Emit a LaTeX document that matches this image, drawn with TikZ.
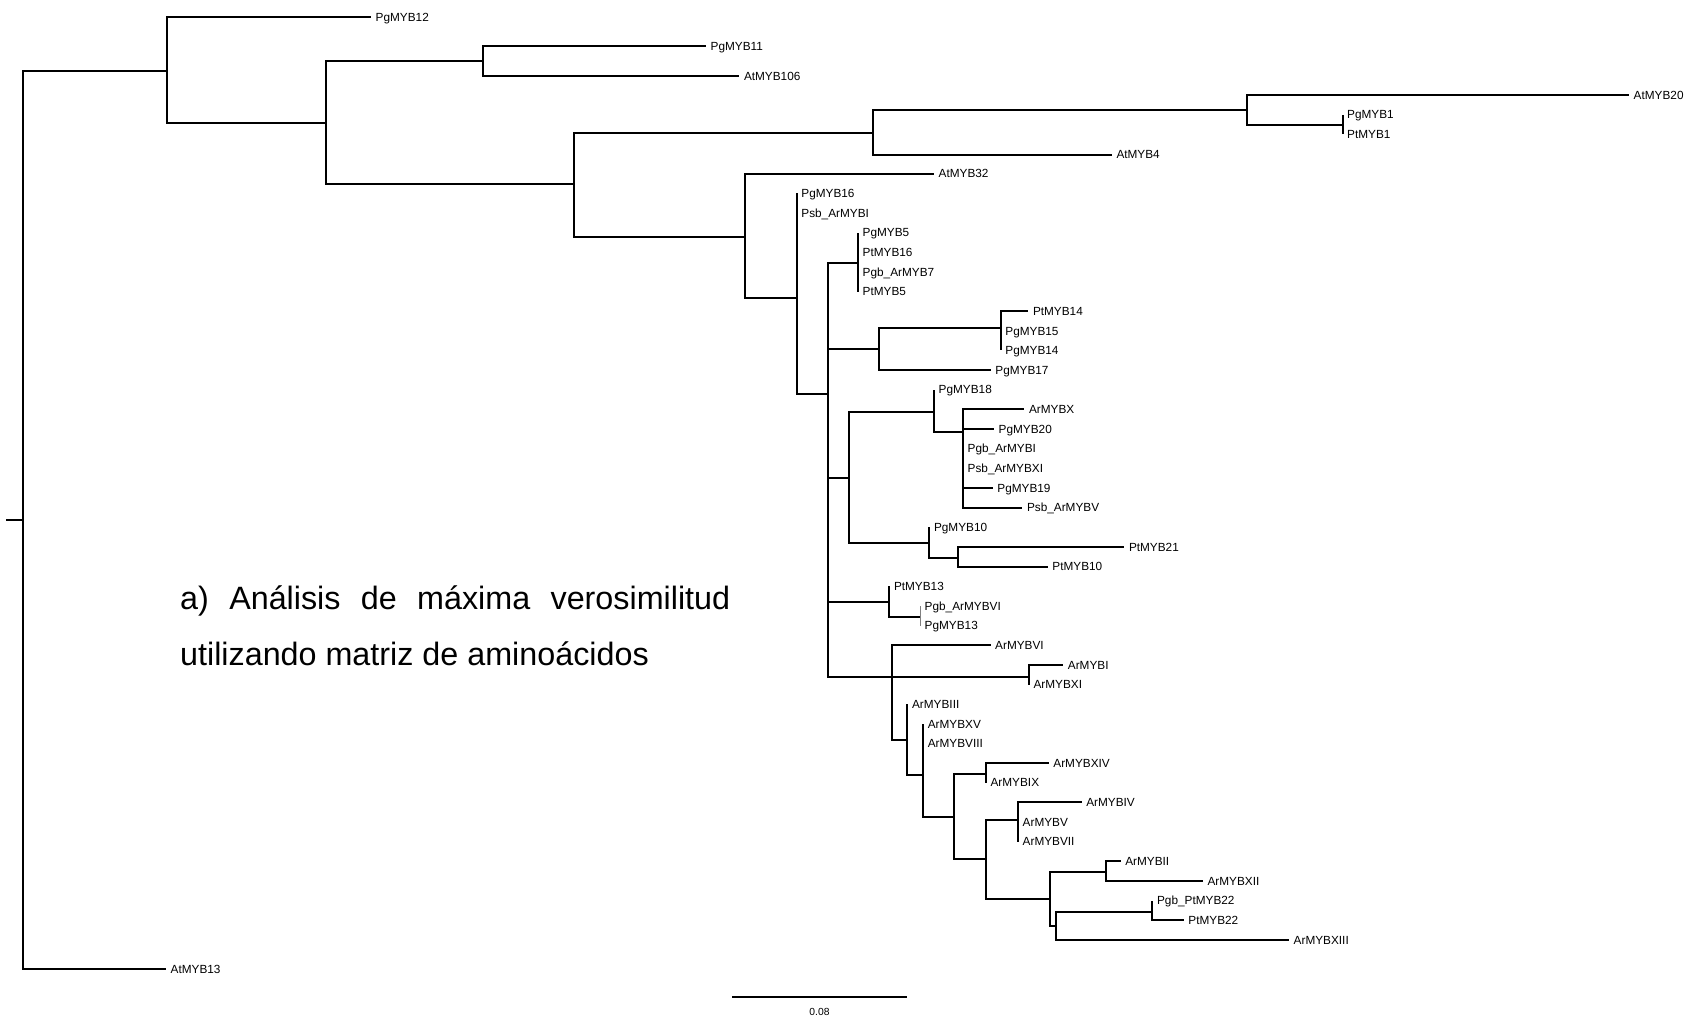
\documentclass[tikz,border=0pt]{standalone}
\usepackage{fontspec}
\setmainfont{Liberation Sans}
\begin{document}
\begin{tikzpicture}[x=1pt,y=-1pt,
  br/.style={line width=2pt,black},
  thinbr/.style={line width=1pt,gray},
  lab/.style={anchor=base west,inner sep=0pt,xshift=4.5pt,yshift=-4.2pt,font=\fontsize{11.8}{14}\selectfont},
  title/.style={anchor=base west,inner sep=0pt,font=\fontsize{32.3}{38}\selectfont}]
\newcommand\myleaf[4]{\coordinate (#1) at (#2,#3); \node[lab] (#1l) at (#1) {#4};}
\useasboundingbox (0,0) rectangle (1696,1016);
\fill[white] (0,0) rectangle (1696,1016);
% leaves
\myleaf{L1}{371}{17.3}{PgMYB12}
\myleaf{L2}{706}{46}{PgMYB11}
\myleaf{L3}{739.3}{76}{AtMYB106}
\myleaf{L4}{1629}{95}{AtMYB20}
\myleaf{L5}{1342.5}{114.65}{PgMYB1}
\myleaf{L6}{1342.5}{134.3}{PtMYB1}
\myleaf{L7}{1111.8}{154.7}{AtMYB4}
\myleaf{L8}{934}{173.6}{AtMYB32}
\myleaf{L9}{796.7}{193.25}{PgMYB16}
\myleaf{L10}{796.7}{212.9}{Psb\_ArMYBI}
\myleaf{L11}{858}{232.55}{PgMYB5}
\myleaf{L12}{858}{252.2}{PtMYB16}
\myleaf{L13}{858}{271.85}{Pgb\_ArMYB7}
\myleaf{L14}{858}{291.5}{PtMYB5}
\myleaf{L15}{1028.3}{311.15}{PtMYB14}
\myleaf{L16}{1000.7}{330.8}{PgMYB15}
\myleaf{L17}{1000.7}{350.45}{PgMYB14}
\myleaf{L18}{990.7}{370.1}{PgMYB17}
\myleaf{L19}{934}{389.75}{PgMYB18}
\myleaf{L20}{1024.3}{409.4}{ArMYBX}
\myleaf{L21}{994}{429.05}{PgMYB20}
\myleaf{L22}{963}{448.7}{Pgb\_ArMYBI}
\myleaf{L23}{963}{468.35}{Psb\_ArMYBXI}
\myleaf{L24}{992.7}{488}{PgMYB19}
\myleaf{L25}{1022.3}{507.65}{Psb\_ArMYBV}
\myleaf{L26}{929.3}{527.3}{PgMYB10}
\myleaf{L27}{1124.3}{546.95}{PtMYB21}
\myleaf{L28}{1047.7}{566.6}{PtMYB10}
\myleaf{L29}{889.3}{586.25}{PtMYB13}
\myleaf{L30}{920}{605.9}{Pgb\_ArMYBVI}
\myleaf{L31}{920}{625.55}{PgMYB13}
\myleaf{L32}{990.5}{645.2}{ArMYBVI}
\myleaf{L33}{1063.2}{664.85}{ArMYBI}
\myleaf{L34}{1028.8}{684.5}{ArMYBXI}
\myleaf{L35}{907.4}{704.15}{ArMYBIII}
\myleaf{L36}{923.1}{723.8}{ArMYBXV}
\myleaf{L37}{923.1}{743.45}{ArMYBVIII}
\myleaf{L38}{1048.7}{763.1}{ArMYBXIV}
\myleaf{L39}{985.9}{782.75}{ArMYBIX}
\myleaf{L40}{1081.6}{802.4}{ArMYBIV}
\myleaf{L41}{1018}{822.05}{ArMYBV}
\myleaf{L42}{1018}{841.7}{ArMYBVII}
\myleaf{L43}{1120.6}{861.35}{ArMYBII}
\myleaf{L44}{1202.9}{881}{ArMYBXII}
\myleaf{L45}{1152.4}{900.65}{Pgb\_PtMYB22}
\myleaf{L46}{1183.7}{920.3}{PtMYB22}
\myleaf{L47}{1289}{939.95}{ArMYBXIII}
\myleaf{L48}{166}{969}{AtMYB13}
% internal nodes
\coordinate (stub) at (6,520);
\coordinate (nR) at (23,520);
\coordinate (nA) at (166.5,70.7);
\coordinate (nB) at (325.7,123.3);
\coordinate (nC) at (483.3,61);
\coordinate (nD) at (574,184.3);
\coordinate (nE) at (873,132.7);
\coordinate (nF) at (1247,110.3);
\coordinate (nPP) at (1342.5,125.3);
\coordinate (nG) at (745,237);
\coordinate (nH) at (796.7,298.3);
\coordinate (nI) at (828,393.5);
\coordinate (nJ) at (858,263);
\coordinate (nK) at (879,349);
\coordinate (nL) at (1000.7,328);
\coordinate (nM) at (849.3,477.7);
\coordinate (nN) at (934,411.5);
\coordinate (nO) at (963,432.3);
\coordinate (nP) at (929.3,543.3);
\coordinate (nQ) at (958.3,557.7);
\coordinate (nRr) at (889.3,601.7);
\coordinate (nS) at (920,616.7);
\coordinate (nT) at (892,676.7);
\coordinate (nU) at (1028.8,676.7);
\coordinate (nV) at (907.4,740);
\coordinate (nW) at (923.1,775.3);
\coordinate (nX) at (954.1,816.7);
\coordinate (nY) at (985.9,773.7);
\coordinate (nZ) at (985.9,858.7);
\coordinate (nAA) at (1018,820);
\coordinate (nBB) at (1049.8,898.7);
\coordinate (nCC) at (1106.4,872.3);
\coordinate (nDD) at (1055.5,926);
\coordinate (nEE) at (1152.4,911.7);
% branches
\draw[br] (stub) -- (nR);
\draw[br] (nR) |- (nA);
\draw[br] (nR) |- (L48);
\draw[br] (nA) |- (L1);
\draw[br] (nA) |- (nB);
\draw[br] (nB) |- (nC);
\draw[br] (nB) |- (nD);
\draw[br] (nC) |- (L2);
\draw[br] (nC) |- (L3);
\draw[br] (nD) |- (nE);
\draw[br] (nD) |- (nG);
\draw[br] (nE) |- (nF);
\draw[br] (nE) |- (L7);
\draw[br] (nF) |- (L4);
\draw[br] (nF) |- (nPP);
\draw[br] (nPP) |- (L5);
\draw[br] (nPP) |- (L6);
\draw[br] (nG) |- (L8);
\draw[br] (nG) |- (nH);
\draw[br] (nH) |- (L9);
\draw[br] (nH) |- (L10);
\draw[br] (nH) |- (nI);
\draw[br] (nI) |- (nJ);
\draw[br] (nI) |- (nK);
\draw[br] (nI) |- (nM);
\draw[br] (nI) |- (nRr);
\draw[br] (nI) |- (nT);
\draw[br] (nJ) |- (L11);
\draw[br] (nJ) |- (L12);
\draw[br] (nJ) |- (L13);
\draw[br] (nJ) |- (L14);
\draw[br] (nK) |- (nL);
\draw[br] (nK) |- (L18);
\draw[br] (nL) |- (L15);
\draw[br] (nL) |- (L16);
\draw[br] (nL) |- (L17);
\draw[br] (nM) |- (nN);
\draw[br] (nM) |- (nP);
\draw[br] (nN) |- (L19);
\draw[br] (nN) |- (nO);
\draw[br] (nO) |- (L20);
\draw[br] (nO) |- (L21);
\draw[br] (nO) |- (L22);
\draw[br] (nO) |- (L23);
\draw[br] (nO) |- (L24);
\draw[br] (nO) |- (L25);
\draw[br] (nP) |- (L26);
\draw[br] (nP) |- (nQ);
\draw[br] (nQ) |- (L27);
\draw[br] (nQ) |- (L28);
\draw[br] (nRr) |- (L29);
\draw[br] (nRr) |- (nS);
\draw[thinbr] (nS) |- (L30);
\draw[thinbr] (nS) |- (L31);
\draw[br] (nT) |- (L32);
\draw[br] (nT) |- (nU);
\draw[br] (nT) |- (nV);
\draw[br] (nU) |- (L33);
\draw[br] (nU) |- (L34);
\draw[br] (nV) |- (L35);
\draw[br] (nV) |- (nW);
\draw[br] (nW) |- (L36);
\draw[br] (nW) |- (L37);
\draw[br] (nW) |- (nX);
\draw[br] (nX) |- (nY);
\draw[br] (nX) |- (nZ);
\draw[br] (nY) |- (L38);
\draw[br] (nY) |- (L39);
\draw[br] (nZ) |- (nAA);
\draw[br] (nZ) |- (nBB);
\draw[br] (nAA) |- (L40);
\draw[br] (nAA) |- (L41);
\draw[br] (nAA) |- (L42);
\draw[br] (nBB) |- (nCC);
\draw[br] (nBB) |- (nDD);
\draw[br] (nCC) |- (L43);
\draw[br] (nCC) |- (L44);
\draw[br] (nDD) |- (nEE);
\draw[br] (nDD) |- (L47);
\draw[br] (nEE) |- (L45);
\draw[br] (nEE) |- (L46);
% scale bar
\coordinate (sb1) at (732,996.7);
\coordinate (sb2) at (907,996.7);
\draw[br] (sb1) -- (sb2);
\node[anchor=base,inner sep=0pt,font=\fontsize{10.3}{12}\selectfont] (sbl) at (819.5,1015) {0.08};
% caption
\node[title] (t1) at (180,609) {\hbox to 550pt{a)\hfill Análisis\hfill de\hfill máxima\hfill verosimilitud}};
\node[title] (t2) at (180,665) {utilizando matriz de aminoácidos};
\end{tikzpicture}
\end{document}
